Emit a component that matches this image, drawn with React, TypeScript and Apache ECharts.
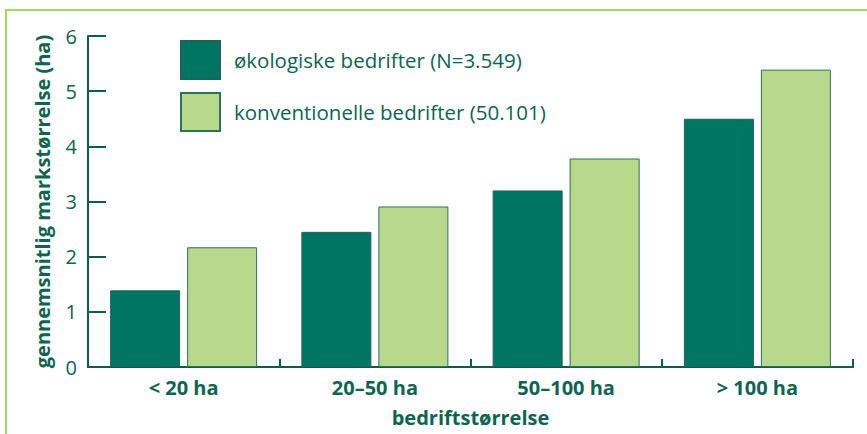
import React, { useEffect, useRef } from "react";
import * as echarts from "echarts";

const categories = ["< 20 ha", "20–50 ha", "50–100 ha", "> 100 ha"];
const organicValues = [1.39, 2.45, 3.2, 4.5];
const conventionalValues = [2.17, 2.91, 3.78, 5.39];
const seriesNames = ["økologiske bedrifter (N=3.549)", "konventionelle bedrifter (50.101)"];
const yAxisTitle = "gennemsnitlig markstørrelse (ha)";
const xAxisTitle = "bedriftstørrelse";

const TEXT = "#0d6450";
const AXIS = "#0b5e4a";
const DARK = "#007563";
const LIGHT = "#b8d98c";
const FONT = "Open Sans";

export default function App() {
  const ref = useRef<HTMLDivElement>(null);
  useEffect(() => {
    if (!ref.current) return;
    const chart = echarts.init(ref.current, null, { renderer: "svg" });
    chart.setOption({
      animation: false,
      backgroundColor: "#ffffff",
      textStyle: { fontFamily: FONT },
      graphic: [
        {
          type: "rect",
          shape: { x: 6, y: 10, width: 2000, height: 2000 },
          style: { fill: "none", stroke: "#a3d65f", lineWidth: 2 },
          silent: true,
          z: -10,
        },
      ],
      legend: {
        orient: "vertical",
        left: 175,
        top: 35,
        itemWidth: 39,
        itemHeight: 38,
        itemGap: 12,
        icon: "rect",
        selectedMode: false,
        textStyle: {
          color: TEXT,
          fontSize: 20.5,
          fontFamily: FONT,
          padding: [28, 0, 0, 9],
        },
        data: seriesNames,
      },
      grid: { left: 88, right: 14, top: 36, bottom: 67, containLabel: false },
      xAxis: {
        type: "category",
        data: categories,
        name: xAxisTitle,
        nameLocation: "middle",
        nameGap: 40,
        nameTextStyle: { color: TEXT, fontSize: 20, fontWeight: "bold", fontFamily: FONT },
        axisLine: { show: true, lineStyle: { color: AXIS, width: 2 } },
        axisTick: { show: true, inside: true, length: 8, lineStyle: { color: AXIS, width: 2 } },
        axisLabel: { color: TEXT, fontSize: 20, fontWeight: "bold", margin: 10, fontFamily: FONT },
        splitLine: { show: false },
      },
      yAxis: {
        type: "value",
        min: 0,
        max: 6,
        interval: 1,
        name: yAxisTitle,
        nameLocation: "middle",
        nameGap: 36,
        nameTextStyle: { color: TEXT, fontSize: 20, fontWeight: "bold", fontFamily: FONT },
        axisLine: { show: true, lineStyle: { color: AXIS, width: 2 } },
        axisTick: { show: true, inside: true, length: 18, lineStyle: { color: AXIS, width: 2 } },
        axisLabel: { color: TEXT, fontSize: 20, margin: 11, fontFamily: FONT, padding: [6, 0, 0, 0] },
        splitLine: { show: false },
      },
      series: [
        {
          name: seriesNames[0],
          type: "bar",
          data: organicValues,
          barWidth: 70,
          barGap: "10%",
          itemStyle: { color: DARK, borderColor: "#1d6552", borderWidth: 1 },
        },
        {
          name: seriesNames[1],
          type: "bar",
          data: conventionalValues,
          barWidth: 70,
          barGap: "10%",
          itemStyle: { color: LIGHT, borderColor: "#2b7259", borderWidth: 1 },
        },
      ],
    });
    return () => chart.dispose();
  }, []);
  return (
    <div
      ref={ref}
      style={{ position: "fixed", left: 0, top: 0, width: 867, height: 434 }}
    />
  );
}
